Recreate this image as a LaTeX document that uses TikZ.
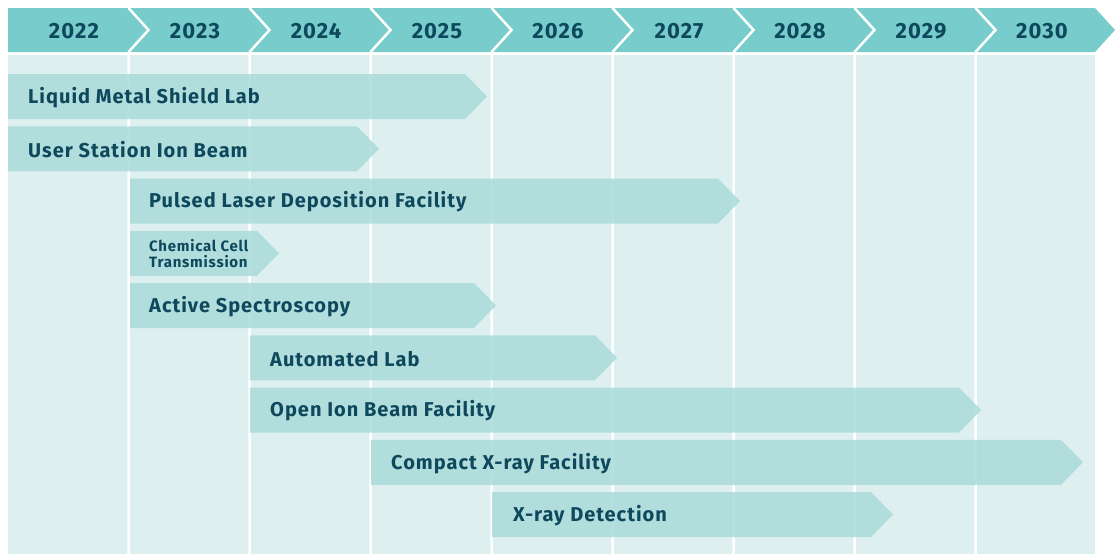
\documentclass[tikz,border=0pt]{standalone}
\usepackage{fontspec}
\setmainfont{Fira Sans}[LetterSpace=5]
\usepackage{tikz}
\definecolor{headteal}{RGB}{120,204,204}
\definecolor{bodyteal}{RGB}{221,240,239}
\definecolor{barteal}{RGB}{170,219,219}
\definecolor{inkteal}{RGB}{14,72,92}

\begin{document}
\begin{tikzpicture}[x=1pt, y=-1pt,
    year/.style = {text=inkteal, font=\fontsize{22}{25}\selectfont\bfseries, inner sep=0pt},
    sep/.style = {draw=white, line width=2.5pt},
    bar/.style = {fill=barteal, fill opacity=0.85},
    task/.style = {anchor=west, inner sep=0pt, text=inkteal, font=\fontsize{20}{23}\selectfont\bfseries},
    smalltask/.style = {task, align=left, font=\fontsize{15}{16}\selectfont\bfseries}]
        \useasboundingbox (0,0) rectangle (1115,554);
        \fill[bodyteal] (8,55) rectangle (1095,554); % chart area
        \fill[headteal] (8,8) -- (1095,8) -- (1115,30) -- (1095,52) -- (8,52) -- cycle; % year band
        % year separators and column lines
        \draw[sep] (128.5,8) -- (148.5,30) -- (128.5,52) (128.5,55) -- (128.5,554);
        \draw[sep] (249.5,8) -- (269.5,30) -- (249.5,52) (249.5,55) -- (249.5,554);
        \draw[sep] (370.5,8) -- (390.5,30) -- (370.5,52) (370.5,55) -- (370.5,554);
        \draw[sep] (491.5,8) -- (511.5,30) -- (491.5,52) (491.5,55) -- (491.5,554);
        \draw[sep] (612.5,8) -- (632.5,30) -- (612.5,52) (612.5,55) -- (612.5,554);
        \draw[sep] (733.5,8) -- (753.5,30) -- (733.5,52) (733.5,55) -- (733.5,554);
        \draw[sep] (854.5,8) -- (874.5,30) -- (854.5,52) (854.5,55) -- (854.5,554);
        \draw[sep] (975.5,8) -- (995.5,30) -- (975.5,52) (975.5,55) -- (975.5,554);
        \node[year] (y2022) at (74,31.5) {2022};
        \node[year] (y2023) at (195,31.5) {2023};
        \node[year] (y2024) at (316,31.5) {2024};
        \node[year] (y2025) at (437,31.5) {2025};
        \node[year] (y2026) at (558,31.5) {2026};
        \node[year] (y2027) at (679,31.5) {2027};
        \node[year] (y2028) at (800,31.5) {2028};
        \node[year] (y2029) at (921,31.5) {2029};
        \node[year] (y2030) at (1042,31.5) {2030};
        % project bars
        \fill[bar] (8,74) -- (465,74) -- (487,96.5) -- (465,119) -- (8,119) -- cycle;
        \node[task] (lmsl) at (28,97.5) {Liquid Metal Shield Lab};
        \fill[bar] (8,126.25) -- (357,126.25) -- (379,148.75) -- (357,171.25) -- (8,171.25) -- cycle;
        \node[task] (usib) at (28,149.75) {User Station Ion Beam};
        \fill[bar] (130,178.5) -- (718,178.5) -- (740,201) -- (718,223.5) -- (130,223.5) -- cycle;
        \node[task] (pld) at (149,202) {Pulsed Laser Deposition Facility};
        \fill[bar] (130,230.75) -- (257,230.75) -- (279,253.25) -- (257,275.75) -- (130,275.75) -- cycle;
        \node[smalltask] (cct) at (149,253.25) {Chemical Cell\\Transmission};
        \fill[bar] (130,283) -- (474,283) -- (496,305.5) -- (474,328) -- (130,328) -- cycle;
        \node[task] (aspec) at (149,306.5) {Active Spectroscopy};
        \fill[bar] (250,335.25) -- (595,335.25) -- (617,357.75) -- (595,380.25) -- (250,380.25) -- cycle;
        \node[task] (alab) at (270,358.75) {Automated Lab};
        \fill[bar] (250,387.5) -- (959,387.5) -- (981,410) -- (959,432.5) -- (250,432.5) -- cycle;
        \node[task] (oibf) at (270,411) {Open Ion Beam Facility};
        \fill[bar] (371,439.75) -- (1061,439.75) -- (1083,462.25) -- (1061,484.75) -- (371,484.75) -- cycle;
        \node[task] (cxf) at (391,463.25) {Compact X-ray Facility};
        \fill[bar] (492,492) -- (871,492) -- (893,514.5) -- (871,537) -- (492,537) -- cycle;
        \node[task] (xdet) at (513,515.5) {X-ray Detection};
    \end{tikzpicture}
\end{document}
